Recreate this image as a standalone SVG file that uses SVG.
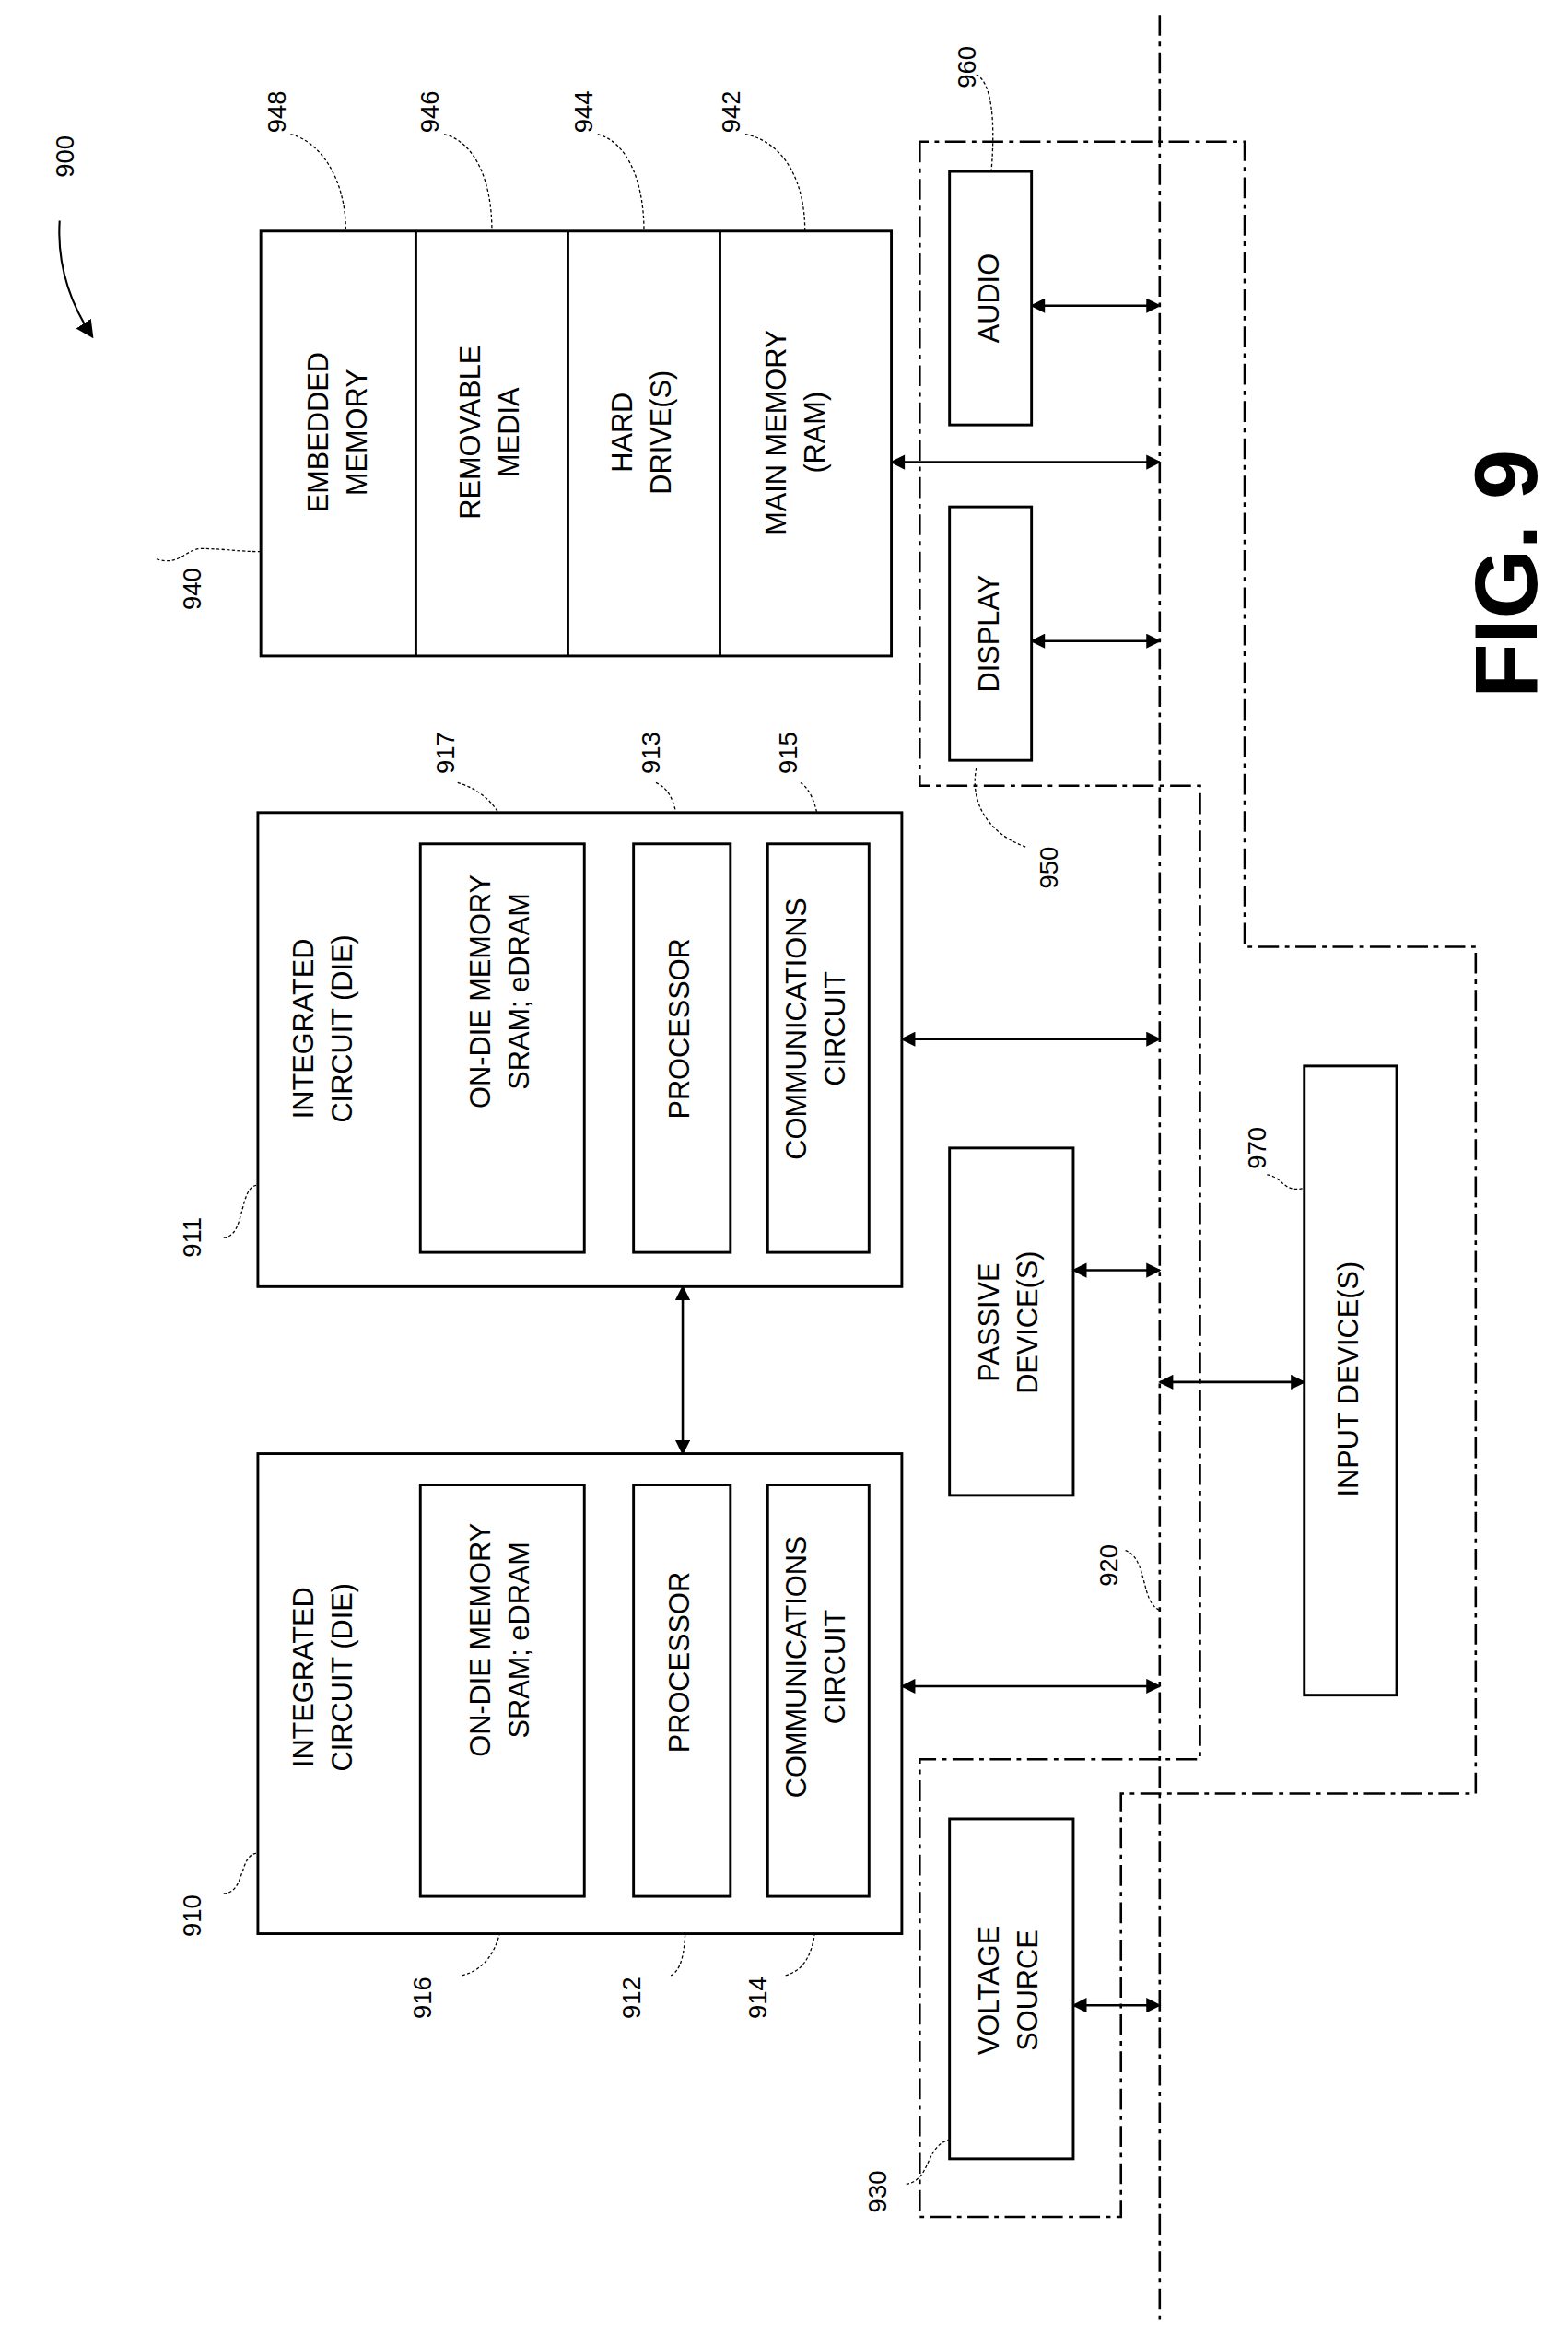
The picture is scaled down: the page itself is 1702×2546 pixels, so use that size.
<svg xmlns="http://www.w3.org/2000/svg" width="1702" height="2546" viewBox="0 0 1702 2546">
<style>
.b{fill:#fff;stroke:#000;stroke-width:1.8}
.t{font-family:"Liberation Sans",Arial,sans-serif;font-size:19px;text-anchor:middle;dominant-baseline:middle}
.n{font-family:"Liberation Sans",Arial,sans-serif;font-size:17px;text-anchor:middle;dominant-baseline:middle}
.l{fill:none;stroke:#000;stroke-width:0.8;stroke-dasharray:2 1.5}
.a{fill:none;stroke:#000;stroke-width:1.6;marker-start:url(#m);marker-end:url(#m)}
.dd{fill:none;stroke:#000;stroke-width:1.6;stroke-dasharray:14 4 3 4}
</style>
<defs><marker id="m" viewBox="0 0 10 10" refX="9" refY="5" markerWidth="11" markerHeight="10" orient="auto-start-reverse" markerUnits="userSpaceOnUse"><path d="M0,0L10,5L0,10Z"/></marker>
<marker id="m2" viewBox="0 0 10 10" refX="9" refY="5" markerWidth="12" markerHeight="12" orient="auto" markerUnits="userSpaceOnUse"><path d="M0,0L10,5L0,10Z"/></marker></defs>
<rect width="1702" height="2546" fill="#fff"/>
<g transform="scale(1.618)">
<g id="connectors">
<line x1="778" y1="10" x2="778" y2="1560" class="dd"/>
<path class="dd" d="M617,95V527H805V1180H617V1487H752V1203H990V635H835V95Z"/>
<line class="a" x1="692" y1="205" x2="778" y2="205"/>
<line class="a" x1="692" y1="430" x2="778" y2="430"/>
<line class="a" x1="598" y1="310" x2="778" y2="310"/>
<line class="a" x1="605" y1="697" x2="778" y2="697"/>
<line class="a" x1="605" y1="1131" x2="778" y2="1131"/>
<line class="a" x1="458" y1="863" x2="458" y2="975"/>
<line class="a" x1="720" y1="852" x2="778" y2="852"/>
<line class="a" x1="778" y1="927" x2="875" y2="927"/>
<line class="a" x1="720" y1="1345" x2="778" y2="1345"/>
<path d="M40,148C38,180 48,205 62,226" fill="none" stroke="#000" stroke-width="1.3" marker-end="url(#m2)"/>
<path class="l" d="M105,375C120,380 125,368 135,368C150,368 160,370 175,370"/>
<path class="l" d="M195,90C215,95 232,120 232,155"/>
<path class="l" d="M298,90C318,95 330,120 330,155"/>
<path class="l" d="M401,90C420,95 432,120 432,155"/>
<path class="l" d="M500,90C525,95 540,120 540,155"/>
<path class="l" d="M655,50C665,55 668,80 665,115"/>
<path class="l" d="M655,515C650,540 665,560 688,568"/>
<path class="l" d="M307,525C325,530 340,545 340,566"/>
<path class="l" d="M440,525C452,530 455,545 455,566"/>
<path class="l" d="M537,525C545,530 550,545 550,566"/>
<path class="l" d="M150,830C165,830 160,795 173,795"/>
<path class="l" d="M150,1270C165,1270 160,1243 173,1243"/>
<path class="l" d="M310,1325C330,1320 338,1300 338,1272"/>
<path class="l" d="M450,1325C460,1320 460,1300 460,1272"/>
<path class="l" d="M527,1325C545,1320 548,1300 548,1272"/>
<path class="l" d="M755,1040C770,1045 765,1075 778,1080"/>
<path class="l" d="M850,788C862,790 860,800 875,797"/>
<path class="l" d="M608,1465C625,1462 620,1440 637,1435"/>
</g>
<g id="n900"><text class="n" transform="translate(45,105) rotate(-90)">900</text></g>
<g id="n940">
<rect class="b" x="175" y="155" width="423" height="285"/>
<line x1="279" y1="155" x2="279" y2="440" stroke="#000" stroke-width="1.8"/>
<line x1="381" y1="155" x2="381" y2="440" stroke="#000" stroke-width="1.8"/>
<line x1="483" y1="155" x2="483" y2="440" stroke="#000" stroke-width="1.8"/>
<text class="t" transform="translate(228,290) rotate(-90)"><tspan x="0" y="-13">EMBEDDED</tspan><tspan x="0" y="13">MEMORY</tspan></text>
<text class="t" transform="translate(330,290) rotate(-90)"><tspan x="0" y="-13">REMOVABLE</tspan><tspan x="0" y="13">MEDIA</tspan></text>
<text class="t" transform="translate(432,290) rotate(-90)"><tspan x="0" y="-13">HARD</tspan><tspan x="0" y="13">DRIVE(S)</tspan></text>
<text class="t" transform="translate(535,290) rotate(-90)"><tspan x="0" y="-13">MAIN MEMORY</tspan><tspan x="0" y="13">(RAM)</tspan></text>
<text class="n" transform="translate(130,395) rotate(-90)">940</text>
<text class="n" transform="translate(187,75) rotate(-90)">948</text>
<text class="n" transform="translate(290,75) rotate(-90)">946</text>
<text class="n" transform="translate(393,75) rotate(-90)">944</text>
<text class="n" transform="translate(492,75) rotate(-90)">942</text>
</g>
<g id="n960"><rect class="b" x="637" y="115" width="55" height="170"/><text class="t" transform="translate(665,200) rotate(-90)">AUDIO</text><text class="n" transform="translate(650,45) rotate(-90)">960</text></g>
<g id="n950"><rect class="b" x="637" y="340" width="55" height="170"/><text class="t" transform="translate(665,425) rotate(-90)">DISPLAY</text><text class="n" transform="translate(705,582) rotate(-90)">950</text></g>
<g id="n911">
<rect class="b" x="173" y="545" width="432" height="318"/>
<rect class="b" x="282" y="566" width="110" height="274"/>
<rect class="b" x="425" y="566" width="65" height="274"/>
<rect class="b" x="515" y="566" width="68" height="274"/>
<text class="t" transform="translate(218,690) rotate(-90)"><tspan x="0" y="-13">INTEGRATED</tspan><tspan x="0" y="13">CIRCUIT (DIE)</tspan></text>
<text class="t" transform="translate(337,665) rotate(-90)"><tspan x="0" y="-13">ON-DIE MEMORY</tspan><tspan x="0" y="13">SRAM; eDRAM</tspan></text>
<text class="t" transform="translate(457,690) rotate(-90)">PROCESSOR</text>
<text class="t" transform="translate(549,690) rotate(-90)"><tspan x="0" y="-13">COMMUNICATIONS</tspan><tspan x="0" y="13">CIRCUIT</tspan></text>
<text class="n" transform="translate(130,830) rotate(-90)">911</text>
<text class="n" transform="translate(300,505) rotate(-90)">917</text>
<text class="n" transform="translate(438,505) rotate(-90)">913</text>
<text class="n" transform="translate(530,505) rotate(-90)">915</text>
</g>
<g id="n910">
<rect class="b" x="173" y="975" width="432" height="322"/>
<rect class="b" x="282" y="996" width="110" height="276"/>
<rect class="b" x="425" y="996" width="65" height="276"/>
<rect class="b" x="515" y="996" width="68" height="276"/>
<text class="t" transform="translate(218,1125) rotate(-90)"><tspan x="0" y="-13">INTEGRATED</tspan><tspan x="0" y="13">CIRCUIT (DIE)</tspan></text>
<text class="t" transform="translate(337,1100) rotate(-90)"><tspan x="0" y="-13">ON-DIE MEMORY</tspan><tspan x="0" y="13">SRAM; eDRAM</tspan></text>
<text class="t" transform="translate(457,1115) rotate(-90)">PROCESSOR</text>
<text class="t" transform="translate(549,1118) rotate(-90)"><tspan x="0" y="-13">COMMUNICATIONS</tspan><tspan x="0" y="13">CIRCUIT</tspan></text>
<text class="n" transform="translate(130,1285) rotate(-90)">910</text>
<text class="n" transform="translate(285,1340) rotate(-90)">916</text>
<text class="n" transform="translate(425,1340) rotate(-90)">912</text>
<text class="n" transform="translate(510,1340) rotate(-90)">914</text>
</g>
<g id="n_passive"><rect class="b" x="637" y="770" width="83" height="233"/><text class="t" transform="translate(678,887) rotate(-90)"><tspan x="0" y="-13">PASSIVE</tspan><tspan x="0" y="13">DEVICE(S)</tspan></text></g>
<g id="n970"><rect class="b" x="875" y="715" width="62" height="422"/><text class="t" transform="translate(906,925) rotate(-90)">INPUT DEVICE(S)</text><text class="n" transform="translate(845,770) rotate(-90)">970</text></g>
<g id="n920"><text class="n" transform="translate(745,1050) rotate(-90)">920</text></g>
<g id="n930"><rect class="b" x="637" y="1220" width="83" height="228"/><text class="t" transform="translate(678,1335) rotate(-90)"><tspan x="0" y="-13">VOLTAGE</tspan><tspan x="0" y="13">SOURCE</tspan></text><text class="n" transform="translate(590,1470) rotate(-90)">930</text></g>
<g id="fig"><text transform="translate(1015,385) rotate(-90)" font-family="Liberation Sans,Arial,sans-serif" font-weight="bold" font-size="60" text-anchor="middle" dominant-baseline="middle">FIG. 9</text></g>
</g>
</svg>
